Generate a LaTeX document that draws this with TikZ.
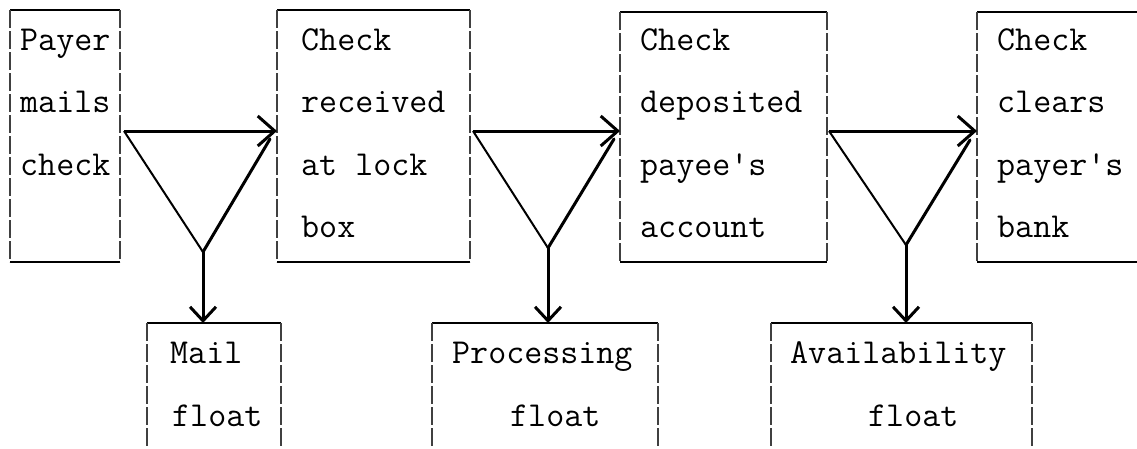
\documentclass[tikz,border=0pt]{standalone}
\usetikzlibrary{arrows.meta}
\begin{document}
\begin{tikzpicture}[x=1pt,y=-1pt,
  txt/.style={anchor=base west, inner sep=0pt, font=\ttfamily\fontsize{35}{40}\selectfont},
  boxh/.style={line width=1.6pt},
  boxv/.style={line width=1.2pt, black!75, dash pattern=on 18pt off 3pt},
  frame/.style={inner sep=0pt, outer sep=0pt, anchor=north west},
  flow/.style={line width=3pt, -{Straight Barb[length=17pt,width=30pt]}},
  down/.style={line width=3pt, -{Straight Barb[length=14pt,width=26pt]}},
  legl/.style={line width=2pt},
  legr/.style={line width=3pt}]
\fill[white] (0,0) rectangle (1137,448);
\useasboundingbox (0,0) rectangle (1137,448);

% top boxes
\node[frame, minimum width=110pt, minimum height=252pt] (box1) at (10,10) {};
\node[frame, minimum width=193pt, minimum height=252pt] (box2) at (277,10) {};
\node[frame, minimum width=207pt, minimum height=250pt] (box3) at (620,12) {};
\node[frame, minimum width=160pt, minimum height=250pt] (box4) at (977,12) {};
\foreach \b in {box1,box2,box3}{
  \draw[boxh] (\b.north west) -- (\b.north east) (\b.south west) -- (\b.south east);
  \draw[boxv] (\b.north west) -- (\b.south west) (\b.north east) -- (\b.south east);
}
\draw[boxh] (box4.north west) -- (box4.north east) (box4.south west) -- (box4.south east);
\draw[boxv] (box4.north west) -- (box4.south west);

% bottom boxes (open at the bottom edge)
\node[frame, minimum width=134pt, minimum height=125pt] (mail) at (147,323) {};
\node[frame, minimum width=226pt, minimum height=125pt] (proc) at (432,323) {};
\node[frame, minimum width=261pt, minimum height=125pt] (avail) at (771,323) {};
\foreach \b in {mail,proc,avail}{
  \draw[boxh] (\b.north west) -- (\b.north east);
  \draw[boxv] (\b.north west) -- (\b.south west) (\b.north east) -- (\b.south east);
}

% texts
\node[txt] (t1a) at (20,50) {Payer};
\node[txt] (t1b) at (20,112.5) {mails};
\node[txt] (t1c) at (20,175) {check};
\node[txt] (t2a) at (301,50) {Check};
\node[txt] (t2b) at (301,112.5) {received};
\node[txt] (t2c) at (301,175) {at lock};
\node[txt] (t2d) at (301,237.5) {box};
\node[txt] (t3a) at (640,50) {Check};
\node[txt] (t3b) at (640,112.5) {deposited};
\node[txt] (t3c) at (640,175) {payee\textquotesingle s};
\node[txt] (t3d) at (640,237.5) {account};
\node[txt] (t4a) at (997,50) {Check};
\node[txt] (t4b) at (997,112.5) {clears};
\node[txt] (t4c) at (997,175) {payer\textquotesingle s};
\node[txt] (t4d) at (997,237.5) {bank};
\node[txt] (m1) at (170,363) {Mail};
\node[txt] (m2) at (172,426) {float};
\node[txt] (p1t) at (452,363) {Processing};
\node[txt] (p2t) at (510,426) {float};
\node[txt] (a1t) at (790,363) {Availability};
\node[txt] (a2t) at (868,426) {float};

% funnel coordinates
\coordinate (s1) at (124,131);
\coordinate (e1) at (box2.west |- s1);
\coordinate (r1) at (270,139);
\coordinate (v1) at (203,252);
\coordinate (s2) at (473,131);
\coordinate (e2) at (box3.west |- s2);
\coordinate (r2) at (614,139);
\coordinate (v2) at (548,248);
\coordinate (s3) at (829,131);
\coordinate (e3) at (box4.west |- s3);
\coordinate (r3) at (970,140);
\coordinate (v3) at (906,245);

\foreach \i/\t in {1/mail,2/proc,3/avail}{
  \draw[flow] (s\i) -- (e\i);
  \draw[legl] (s\i) -- (v\i);
  \draw[legr, line cap=round] (v\i) -- (r\i);
  \draw[down] (v\i) -- (v\i |- \t.north);
}
\end{tikzpicture}
\end{document}
